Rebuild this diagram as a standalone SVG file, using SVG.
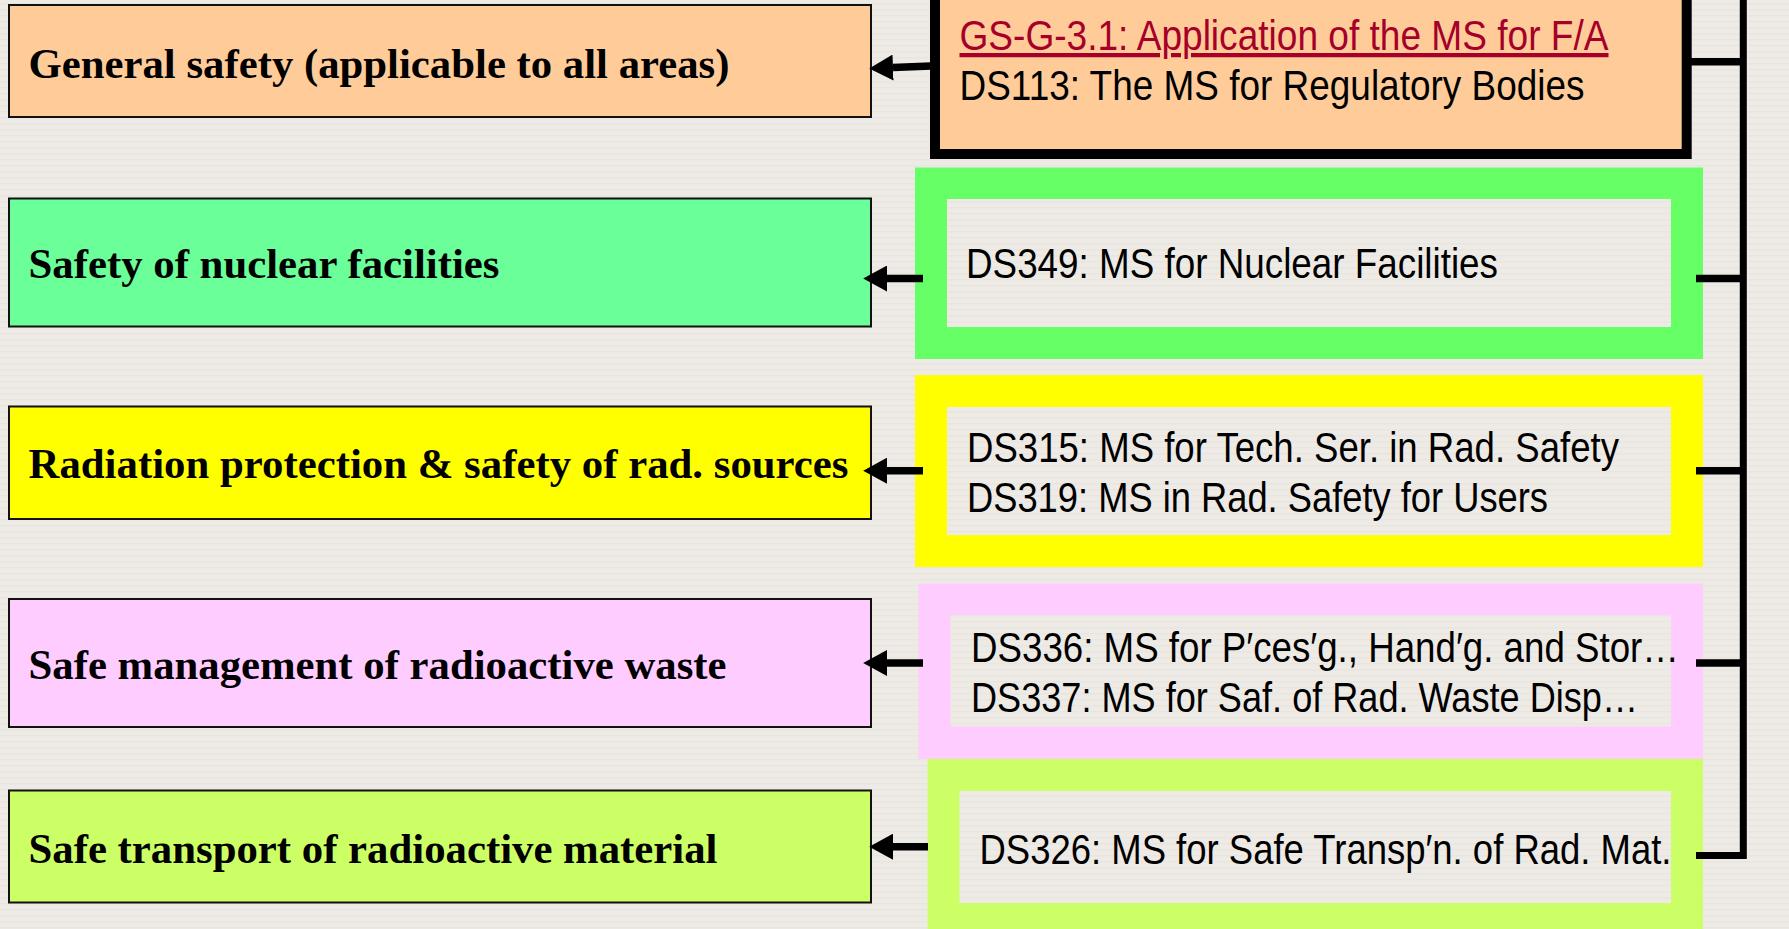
<svg xmlns="http://www.w3.org/2000/svg" width="1789" height="929" viewBox="0 0 1789 929">
<style>
.lbox{stroke:#111;stroke-width:2}
.ltxt{font-family:"Liberation Serif","Times New Roman",serif;font-weight:bold;font-size:43px;fill:#000}
.rtxt{font-family:"Liberation Sans",Arial,sans-serif;font-size:42.5px;fill:#000}
.frame{fill-rule:evenodd}
.conn{stroke:#000;stroke-width:7.5;fill:none}
.bus{stroke:#000;stroke-width:7;fill:none;stroke-linejoin:miter}
</style>
<defs>
<pattern id="bg" width="16" height="6" patternUnits="userSpaceOnUse">
<rect width="16" height="6" fill="#EEEBE6"/>
<rect y="3" width="16" height="1.5" fill="#E9E6E0"/>
</pattern>
<marker id="ah" markerUnits="userSpaceOnUse" markerWidth="24" markerHeight="26" viewBox="0 0 22 24" refX="0" refY="12" orient="auto">
<path d="M0,0 L22,12 L0,24 Z" fill="#000"/>
</marker>
</defs>
<rect width="1789" height="929" fill="url(#bg)"/>

<g id="left-general">
<rect class="lbox" x="9" y="5" width="862" height="112" fill="#FFCC99"/>
<text class="ltxt" x="28.5" y="77.5" textLength="701" lengthAdjust="spacingAndGlyphs">General safety (applicable to all areas)</text>
</g>
<g id="left-nuclear">
<rect class="lbox" x="9" y="198.5" width="862" height="128" fill="#6AFF99"/>
<text class="ltxt" x="28.5" y="277.5" textLength="471" lengthAdjust="spacingAndGlyphs">Safety of nuclear facilities</text>
</g>
<g id="left-radiation">
<rect class="lbox" x="9" y="406.5" width="862" height="112.5" fill="#FFFF00"/>
<text class="ltxt" x="28.5" y="478" textLength="820" lengthAdjust="spacingAndGlyphs">Radiation protection &amp; safety of rad. sources</text>
</g>
<g id="left-waste">
<rect class="lbox" x="9" y="599" width="862" height="128" fill="#FFCCFF"/>
<text class="ltxt" x="28.5" y="679" textLength="698" lengthAdjust="spacingAndGlyphs">Safe management of radioactive waste</text>
</g>
<g id="left-transport">
<rect class="lbox" x="9" y="790.5" width="862" height="112" fill="#CCFF66"/>
<text class="ltxt" x="28.5" y="863" textLength="689" lengthAdjust="spacingAndGlyphs">Safe transport of radioactive material</text>
</g>

<g id="ms-general">
<rect x="935" y="-20" width="751.7" height="174" fill="#FFCC99" stroke="#000" stroke-width="10"/>
<text class="rtxt" x="959.5" y="50" style="fill:#A6002A" text-decoration="underline" textLength="649" lengthAdjust="spacingAndGlyphs">GS-G-3.1: Application of the MS for F/A</text>
<text class="rtxt" x="959.5" y="100" textLength="625" lengthAdjust="spacingAndGlyphs">DS113: The MS for Regulatory Bodies</text>
</g>
<g id="ms-nuclear">
<path class="frame" fill="#66FF66" d="M915,167.5 H1703 V359 H915 Z M947,199 V327 H1671 V199 Z"/>
<text class="rtxt" x="966" y="277.7" textLength="532" lengthAdjust="spacingAndGlyphs">DS349: MS for Nuclear Facilities</text>
</g>
<g id="ms-radiation">
<path class="frame" fill="#FFFF00" d="M915,375 H1703 V567 H915 Z M947,407 V535 H1671 V407 Z"/>
<text class="rtxt" x="967" y="461.5" textLength="652" lengthAdjust="spacingAndGlyphs">DS315: MS for Tech. Ser. in Rad. Safety</text>
<text class="rtxt" x="967" y="511.5" textLength="581" lengthAdjust="spacingAndGlyphs">DS319: MS in Rad. Safety for Users</text>
</g>
<g id="ms-waste">
<path class="frame" fill="#FFCCFF" d="M918.5,583.5 H1703 V759 H918.5 Z M950.5,615 V726.5 H1671 V615 Z"/>
<text class="rtxt" x="971" y="662" textLength="708" lengthAdjust="spacingAndGlyphs">DS336: MS for P′ces′g., Hand′g. and Stor…</text>
<text class="rtxt" x="971" y="712" textLength="667" lengthAdjust="spacingAndGlyphs">DS337: MS for Saf. of Rad. Waste Disp…</text>
</g>
<g id="ms-transport">
<path class="frame" fill="#CCFF66" d="M927.5,759 H1703 V935 H927.5 Z M959.5,791 V903 H1671 V791 Z"/>
<text class="rtxt" x="979.5" y="863.5" textLength="692" lengthAdjust="spacingAndGlyphs">DS326: MS for Safe Transp′n. of Rad. Mat.</text>
</g>

<g id="connectors">
<path class="bus" d="M1743.3,-5 V855.5 H1696"/>
<line class="conn" x1="1690" y1="61.7" x2="1743.3" y2="61.7"/>
<line class="conn" x1="1696" y1="278.5" x2="1743.3" y2="278.5"/>
<line class="conn" x1="1696" y1="470.7" x2="1743.3" y2="470.7"/>
<line class="conn" x1="1696" y1="663" x2="1743.3" y2="663"/>
<line class="conn" x1="931" y1="66" x2="893" y2="67.6" marker-end="url(#ah)"/>
<line class="conn" x1="923" y1="278.5" x2="887" y2="278.5" marker-end="url(#ah)"/>
<line class="conn" x1="923" y1="470.7" x2="887" y2="470.7" marker-end="url(#ah)"/>
<line class="conn" x1="923" y1="663" x2="887" y2="663" marker-end="url(#ah)"/>
<line class="conn" x1="928" y1="846.7" x2="893" y2="846.7" marker-end="url(#ah)"/>
</g>
</svg>
